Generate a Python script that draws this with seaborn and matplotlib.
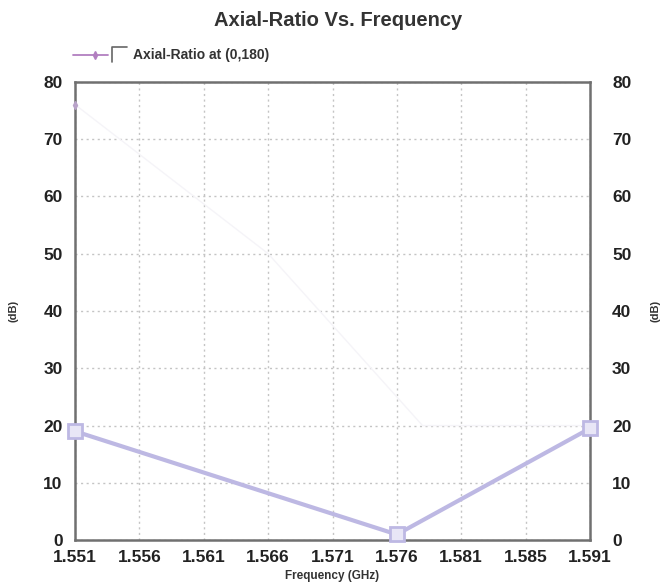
import matplotlib
matplotlib.use("Agg")
import matplotlib.pyplot as plt
from matplotlib.lines import Line2D
import seaborn as sns
import pandas as pd

# valores
freq_ghz = [1.551, 1.576, 1.591]
axial_ratio_db = [19.0, 1.0, 19.5]

# serie casi invisible (apenas se ve en el original)
faint_freq = [1.551, 1.566, 1.578, 1.591]
faint_db = [76.0, 50.0, 20.0, 20.0]

x_ticks = [1.551, 1.556, 1.561, 1.566, 1.571, 1.576, 1.581, 1.586, 1.591]
x_labels = ["1.551", "1.556", "1.561", "1.566", "1.571", "1.576", "1.581", "1.585", "1.591"]
y_ticks = [0, 10, 20, 30, 40, 50, 60, 70, 80]

sns.set_style("white")
plt.rcParams['font.family'] = ['Liberation Sans', 'DejaVu Sans']

df = pd.DataFrame({'Frequency': freq_ghz, 'AR': axial_ratio_db})

fig = plt.figure(figsize=(6.65, 5.84), dpi=100)
ax = fig.add_axes([0.113, 0.075, 0.774, 0.785])

ax.plot(faint_freq, faint_db, color='#f5f4f8', lw=1.0, zorder=1)
ax.plot(faint_freq[:1], faint_db[:1], marker='d', ms=4, color='#b9a3c9',
        clip_on=False, zorder=3)

sns.lineplot(data=df, x='Frequency', y='AR', ax=ax, color='#bdb8e3', lw=3,
             marker='s', markersize=10, markerfacecolor='#e8e6f6',
             markeredgecolor='#bdb8e3', markeredgewidth=2, clip_on=False, zorder=4)

tick_font = {'fontsize': 12.5, 'fontweight': 'bold', 'color': '#222222'}
ax.set_xlim(1.551, 1.591)
ax.set_ylim(0, 80)
ax.set_xticks(x_ticks)
ax.set_xticklabels(x_labels, **tick_font)
ax.set_yticks(y_ticks)
ax.set_yticklabels([str(v) for v in y_ticks], **tick_font)
ax.tick_params(axis='both', length=0)
ax.tick_params(axis='y', pad=9)
ax.tick_params(axis='x', pad=7)
ax.grid(True, color='#c4c4c4', linestyle=(0, (1.5, 2.5)), lw=1.0)
for s in ax.spines.values():
    s.set_color('#707070')
    s.set_linewidth(1.8)

ax.set_xlabel('Frequency (GHz)', fontsize=8.5, fontweight='bold', color='#333333', labelpad=4)
ax.set_ylabel('(dB)', fontsize=8, fontweight='bold', color='#333333', labelpad=18)

ax2 = ax.twinx()
ax2.set_ylim(0, 80)
ax2.set_yticks(y_ticks)
ax2.set_yticklabels([str(v) for v in y_ticks], **tick_font)
ax2.tick_params(axis='y', length=0, pad=16)
ax2.set_ylabel('(dB)', fontsize=8, fontweight='bold', color='#333333', labelpad=14)
for s in ax2.spines.values():
    s.set_visible(False)

fig.text(0.509, 0.965, 'Axial-Ratio Vs. Frequency', fontsize=14.5, fontweight='bold',
         color='#333333', ha='center', va='center')

# leyenda dibujada a mano: linea con rombo, casilla y texto
fig.add_artist(Line2D([0.110, 0.162], [0.906, 0.906], color='#b27fc0', lw=1.3))
fig.add_artist(Line2D([0.143], [0.906], color='#b27fc0', marker='d', ms=4))
fig.add_artist(Line2D([0.169, 0.169, 0.191], [0.894, 0.919, 0.919], color='#666666', lw=1.2))
fig.text(0.200, 0.906, 'Axial-Ratio at (0,180)', fontsize=10, fontweight='bold',
         color='#333333', ha='left', va='center')

plt.savefig('out.png', dpi=100)
plt.close()
